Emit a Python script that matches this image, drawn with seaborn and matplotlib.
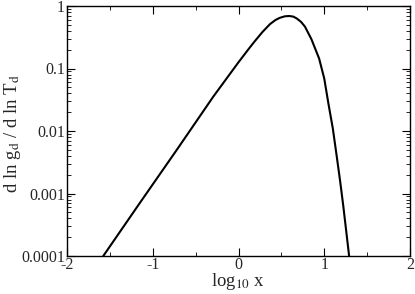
import numpy as np
import pandas as pd
import matplotlib
matplotlib.use("Agg")
import matplotlib.pyplot as plt
import matplotlib.ticker as mticker
import seaborn as sns

# Data (x = log10 x, y = d ln g_d / d ln T_d)
log10_x = [-1.577, -1.15, -0.721, -0.294, 0.0, 0.134, 0.192, 0.28, 0.367, 0.43,
           0.48, 0.54, 0.592, 0.64, 0.68, 0.73, 0.775, 0.85, 0.94, 1.0,
           1.048, 1.10, 1.145, 1.185, 1.222, 1.29]
log10_y = [-4.0, -3.15, -2.304, -1.45, -0.90, -0.66, -0.56, -0.415, -0.29, -0.225,
           -0.19, -0.165, -0.16, -0.17, -0.2, -0.255, -0.33, -0.53, -0.84, -1.16,
           -1.557, -1.96, -2.4, -2.8, -3.2, -4.0]
dlng = [10 ** v for v in log10_y]

x_ticks = [-2, -1, 0, 1, 2]
y_ticks = [1e-4, 1e-3, 1e-2, 1e-1, 1]
y_tick_labels = ["0.0001", "0.001", "0.01", "0.1", "1"]

df = pd.DataFrame({"logx": log10_x, "val": dlng})

sns.set_style("ticks")
plt.rcParams["font.family"] = ["Liberation Serif", "DejaVu Serif"]
plt.rcParams["mathtext.fontset"] = "stix"

fig = plt.figure(figsize=(4.15, 2.94), dpi=100)
ax = fig.add_axes([67 / 415, 38 / 294, 343 / 415, 250 / 294])

sns.lineplot(data=df, x="logx", y="val", ax=ax, color="black", linewidth=1.5,
             sort=False, estimator=None)

ax.set_yscale("log")
ax.set_xlim(-2, 2)
ax.set_ylim(1e-4, 1)
ax.set_xticks(x_ticks)
ax.set_xticklabels([str(t) for t in x_ticks])
ax.xaxis.set_minor_locator(mticker.MultipleLocator(0.5))
ax.set_yticks(y_ticks)
ax.set_yticklabels(y_tick_labels)
ax.yaxis.set_minor_locator(mticker.LogLocator(base=10, subs=np.arange(2, 10)))
ax.yaxis.set_minor_formatter(mticker.NullFormatter())

ax.tick_params(which="both", direction="in", top=True, right=True,
               color="black", labelsize=11.5)
ax.tick_params(axis="x", which="both", pad=0.5)
ax.tick_params(axis="y", which="both", pad=1.5)
ax.tick_params(which="major", length=6, width=0.8)
ax.tick_params(which="minor", length=3, width=0.6)
for s in ax.spines.values():
    s.set_visible(True)
    s.set_linewidth(1.0)
    s.set_color("black")

ax.set_xlabel(r"log$_{10}$ x", fontsize=13.5, labelpad=-1)
ax.set_ylabel(r"d ln g$_\mathrm{d}$ / d ln T$_\mathrm{d}$", fontsize=13.5)
ax.yaxis.set_label_coords(-0.128, 0.49)

fig.savefig("out.png", dpi=100)
